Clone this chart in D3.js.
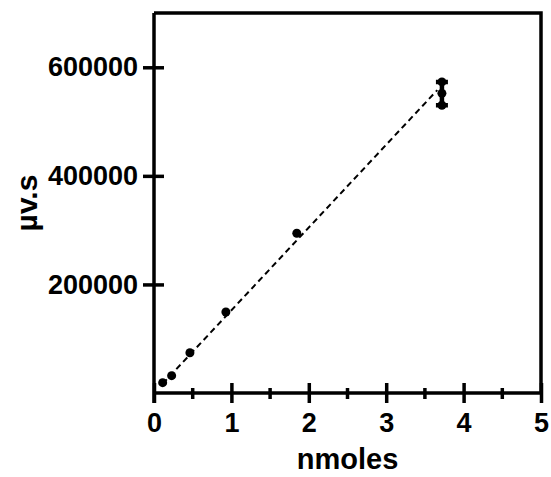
<!DOCTYPE html>
<html>
<head>
<meta charset="utf-8">
<script src="https://cdn.jsdelivr.net/npm/d3@7"></script>
<style>
  body { margin: 0; background: #fff; }
  text { font-family: "Liberation Sans", Arial, sans-serif; font-weight: bold; }
</style>
</head>
<body>
<div id="chart"></div>
<script>
// standard curve: nmoles vs peak area
const nmoles = [0.112, 0.228, 0.464, 0.929, 1.845];
const area = [19000, 31900, 74200, 149200, 294200];
// replicates at the top level
const repX = 3.72;
const repArea = [573000, 552000, 530000];
// linear fit end points
const fitX = [0.112, 3.66];
const fitY = [17000, 558000];

const xTicks = [0, 1, 2, 3, 4, 5];
const xMinor = [0.5, 1.5, 2.5, 3.5, 4.5];
const yTicks = [200000, 400000, 600000];

const width = 551, height = 477;
const margin = {left: 154, right: 10, top: 13, bottom: 84};

const svg = d3.select("#chart").append("svg")
    .attr("width", width)
    .attr("height", height);

const x = d3.scaleLinear().domain([0, 5]).range([margin.left, 541]);
const y = d3.scaleLinear().domain([0, 700000]).range([393, margin.top]);

// frame on top and right
svg.append("path")
    .attr("fill", "none")
    .attr("stroke", "#000")
    .attr("stroke-width", 3.5)
    .attr("d", `M${x(0)},${y(700000)}H${x(5)}V${y(0)}`);

// x axis
const xAxis = svg.append("g")
    .attr("transform", `translate(0,${y(0)})`)
    .call(d3.axisBottom(x).tickValues(xTicks).tickFormat(d3.format("d")).tickSize(10).tickPadding(10));
xAxis.select(".domain").attr("stroke-width", 3.5).attr("d", `M${x(0)},0H${x(5)}`);
xAxis.selectAll(".tick line").attr("stroke-width", 3.5).attr("y1", -10);
xAxis.selectAll(".tick text").attr("font-size", 27).attr("fill", "#000");
xAxis.selectAll(".minor").data(xMinor).join("line")
    .attr("class", "minor")
    .attr("x1", d => x(d)).attr("x2", d => x(d))
    .attr("y1", -5).attr("y2", 6)
    .attr("stroke", "#000").attr("stroke-width", 3.5);

// y axis
const yAxis = svg.append("g")
    .attr("transform", `translate(${x(0)},0)`)
    .call(d3.axisLeft(y).tickValues(yTicks).tickFormat(d3.format("d")).tickSize(11).tickPadding(5));
yAxis.select(".domain").attr("stroke-width", 3.5).attr("d", `M0,${y(700000)}V${y(0) + 10}`);
yAxis.selectAll(".tick line").attr("stroke-width", 3.5).attr("x1", 10);
yAxis.selectAll(".tick text").attr("font-size", 27).attr("fill", "#000");

// fit line
svg.append("line")
    .attr("x1", x(fitX[0])).attr("y1", y(fitY[0]))
    .attr("x2", x(fitX[1])).attr("y2", y(fitY[1]))
    .attr("stroke", "#000")
    .attr("stroke-width", 2)
    .attr("stroke-dasharray", "6,4");

// error bar over the replicates
const lo = d3.min(repArea), hi = d3.max(repArea);
svg.append("path")
    .attr("fill", "none")
    .attr("stroke", "#000")
    .attr("stroke-width", 4.5)
    .attr("d", `M${x(repX) - 6},${y(hi)}H${x(repX) + 6}M${x(repX)},${y(hi)}V${y(lo)}M${x(repX) - 6},${y(lo)}H${x(repX) + 6}`);

svg.append("g").selectAll("circle")
    .data(nmoles.map((d, i) => [d, area[i]]).concat(repArea.map(a => [repX, a])))
    .join("circle")
    .attr("cx", d => x(d[0]))
    .attr("cy", d => y(d[1]))
    .attr("r", 4.5)
    .attr("fill", "#000");

// axis titles
svg.append("text")
    .attr("x", (x(0) + x(5)) / 2)
    .attr("y", 469)
    .attr("text-anchor", "middle")
    .attr("font-size", 29)
    .text("nmoles");

svg.append("text")
    .attr("transform", `translate(37,${(y(0) + y(700000)) / 2}) rotate(-90)`)
    .attr("text-anchor", "middle")
    .attr("font-size", 30)
    .text("µv.s");
</script>
</body>
</html>
